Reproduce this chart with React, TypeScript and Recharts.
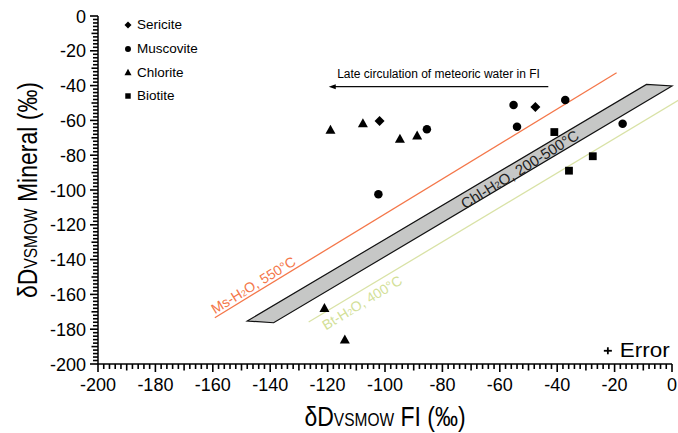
import React from 'react';
import { ScatterChart, Scatter, XAxis, YAxis, ReferenceLine } from 'recharts';

const FONT = '"Liberation Sans", Arial, Helvetica, sans-serif';

// measured data (δD FI, δD mineral)
const sericite = [
  { x: -101.9, y: -60.3 },
  { x: -47.6, y: -52.3 },
];
const muscovite = [
  { x: -102.3, y: -102.5 },
  { x: -85.4, y: -65.1 },
  { x: -55.2, y: -51.1 },
  { x: -54.0, y: -63.6 },
  { x: -37.2, y: -48.3 },
  { x: -17.2, y: -61.9 },
];
const chlorite = [
  { x: -119.0, y: -65.1 },
  { x: -107.7, y: -61.3 },
  { x: -94.8, y: -70.3 },
  { x: -88.8, y: -68.4 },
  { x: -121.1, y: -167.6 },
  { x: -114.0, y: -185.6 },
];
const biotite = [
  { x: -41.0, y: -66.7 },
  { x: -27.6, y: -80.6 },
  { x: -35.9, y: -88.9 },
];

// fractionation lines / band
const msLine = [{ x: -159.3, y: -173.4 }, { x: -19.3, y: -32.6 }];
const btLine = [{ x: -126.6, y: -175.9 }, { x: 2.4, y: -48.3 }];
const chlBand = [
  { x: -148.0, y: -175.3 },
  { x: -8.9, y: -39.3 },
  { x: 0, y: -40.2 },
  { x: -138.8, y: -176.3 },
];
const arrowLine = [{ x: -43.1, y: -40.6 }, { x: -119.6, y: -40.6 }];
const arrowText = 'Late circulation of meteoric water in FI';

const lineLabels = [
  { x: -145.9, y: -154.6, pre: 'Ms-H', post: 'O, 550°C', color: '#f4774a', size: 14, angle: -31.5 },
  { x: -108.0, y: -164.7, pre: 'Bt-H', post: 'O, 400°C', color: '#d3df98', size: 14, angle: -31.5 },
  { x: -53.1, y: -87.9, pre: 'Chl-H', post: 'O, 200-500°C', color: '#222', size: 15, angle: -32 },
];
const errorMark = [{ x: -22.35, y: -192.4 }];

const AXIS_TICKS = Array.from({ length: 101 }, (_, i) => -200 + i * 2);

const SERIES = [
  { name: 'Sericite', kind: 'diamond', data: sericite },
  { name: 'Muscovite', kind: 'circle', data: muscovite },
  { name: 'Chlorite', kind: 'triangle', data: chlorite },
  { name: 'Biotite', kind: 'square', data: biotite },
];

function symbol(kind: string, cx: number, cy: number, s: number) {
  const h = s / 2;
  switch (kind) {
    case 'diamond':
      return <polygon points={`${cx},${cy - h} ${cx + h},${cy} ${cx},${cy + h} ${cx - h},${cy}`} fill="#000" />;
    case 'circle':
      return <circle cx={cx} cy={cy} r={h * 0.85} fill="#000" />;
    case 'triangle':
      return <polygon points={`${cx},${cy - h * 0.9} ${cx + h},${cy + h * 0.9} ${cx - h},${cy + h * 0.9}`} fill="#000" />;
    default: {
      const a = h * 0.78;
      return <rect x={cx - a} y={cy - a} width={a * 2} height={a * 2} fill="#000" />;
    }
  }
}

function tickLen(v: number) {
  return v % 20 === 0 ? 8 : v % 10 === 0 ? 6.5 : 5;
}

const XTick = (props: any) => {
  const { x, y, payload } = props;
  const v = payload.value;
  return (
    <g>
      <rect x={x - 0.8} y={y} width={1.6} height={tickLen(v)} fill="#000" />
      {v % 20 === 0 && (
        <text x={x} y={y + 26.5} textAnchor="middle" fontSize={18} fontFamily={FONT} fill="#000">
          {v}
        </text>
      )}
    </g>
  );
};

const YTick = (props: any) => {
  const { x, y, payload } = props;
  const v = payload.value;
  const len = tickLen(v);
  return (
    <g>
      <rect x={x - len} y={y - 0.8} width={len} height={1.6} fill="#000" />
      {v % 20 === 0 && (
        <text x={x - 12} y={y + 6.5} textAnchor="end" fontSize={18} fontFamily={FONT} fill="#000">
          {v}
        </text>
      )}
    </g>
  );
};

const XTitle = (props: any) => {
  const { x, y, width } = props.viewBox;
  return (
    <text
      transform={`translate(${x + width / 2},${y + 61.5}) scale(1,1.18)`}
      textAnchor="middle"
      fontSize={23}
      fontFamily={FONT}
      fill="#000"
    >
      δD<tspan fontSize={15.5}>VSMOW</tspan> FI (‰)
    </text>
  );
};

const YTitle = (props: any) => {
  const { y, height } = props.viewBox;
  return (
    <text
      transform={`translate(37,${y + height / 2}) rotate(-90) scale(1,1.22)`}
      textAnchor="middle"
      fontSize={23}
      fontFamily={FONT}
      fill="#000"
    >
      δD<tspan fontSize={15.5}>VSMOW</tspan> Mineral (‰)
    </text>
  );
};

const ArrowShape = (props: any) => {
  const { x1, y1, x2, y2 } = props;
  return (
    <g>
      <rect x={x2 + 4} y={y1 - 0.6} width={x1 - x2 - 4} height={1.2} fill="#000" />
      <polygon points={`${x2},${y2} ${x2 + 7},${y2 - 2.5} ${x2 + 7},${y2 + 2.5}`} fill="#000" />
      <text x={(x1 + x2) / 2} y={y1 - 8.5} textAnchor="middle" fontSize={12} fontFamily={FONT} fill="#000">
        {arrowText}
      </text>
    </g>
  );
};

const LabelShape = (props: any) => {
  const { cx, cy, payload } = props;
  return (
    <text
      transform={`translate(${cx},${cy}) rotate(${payload.angle})`}
      textAnchor="middle"
      dominantBaseline="central"
      fontSize={payload.size}
      fontFamily={FONT}
      fill={payload.color}
    >
      {payload.pre}
      <tspan fontSize={payload.size * 0.62} dy={2}>2</tspan>
      <tspan dy={-2}>{payload.post}</tspan>
    </text>
  );
};

const ErrorShape = (props: any) => {
  const { cx, cy } = props;
  return (
    <g>
      <rect x={cx - 4} y={cy - 0.9} width={8} height={1.8} fill="#000" />
      <rect x={cx - 0.9} y={cy - 3.5} width={1.8} height={7} fill="#000" />
      <text x={cx + 12} y={cy + 6} fontSize={20} fontFamily={FONT} fill="#000" textLength={50} lengthAdjust="spacingAndGlyphs">
        Error
      </text>
    </g>
  );
};

const BandPath = (props: any) => {
  const pts = props.points || [];
  if (!pts.length) return <g />;
  const d = 'M' + pts.map((p: any) => `${p.x},${p.y}`).join('L') + 'Z';
  return <path d={d} fill="#c6c7c6" stroke="#111" strokeWidth={1.2} />;
};

export default function App() {
  return (
    <div style={{ position: 'relative', width: 678, height: 433, background: '#fff', fontFamily: FONT }}>
      <style>{`body{margin:0}`}</style>
      <ScatterChart width={678} height={433} margin={{ top: 16, right: 6, bottom: 0, left: 0 }}>
        <XAxis
          type="number"
          dataKey="x"
          domain={[-200, 0]}
          ticks={AXIS_TICKS}
          interval={0}
          tick={(p: any) => <XTick {...p} />}
          tickLine={false}
          tickSize={0}
          tickMargin={0}
          height={69}
          axisLine={{ stroke: '#000', strokeWidth: 1.5 }}
          label={<XTitle />}
        />
        <YAxis
          type="number"
          dataKey="y"
          domain={[-200, 0]}
          ticks={AXIS_TICKS}
          interval={0}
          tick={(p: any) => <YTick {...p} />}
          tickLine={false}
          tickSize={0}
          tickMargin={0}
          width={98}
          axisLine={{ stroke: '#000', strokeWidth: 1.5 }}
          label={<YTitle />}
        />
        <Scatter
          data={chlBand}
          isAnimationActive={false}
          shape={() => <g />}
          line={(p: any) => <BandPath {...p} />}
          legendType="none"
        />
        <ReferenceLine segment={msLine} stroke="#f4774a" strokeWidth={1.3} ifOverflow="visible" />
        <ReferenceLine segment={btLine} stroke="#d9e2a6" strokeWidth={1.3} ifOverflow="visible" />
        <ReferenceLine segment={arrowLine} ifOverflow="visible" shape={ArrowShape} />
        <Scatter data={lineLabels} isAnimationActive={false} shape={LabelShape} legendType="none" />
        {SERIES.map((s) => (
          <Scatter
            key={s.name}
            name={s.name}
            data={s.data}
            isAnimationActive={false}
            shape={(p: any) => symbol(s.kind, p.cx, p.cy, 10)}
          />
        ))}
        <Scatter data={errorMark} isAnimationActive={false} shape={ErrorShape} legendType="none" />
      </ScatterChart>
      <div style={{ position: 'absolute', left: 122, top: 13, fontSize: 13.5, color: '#000' }}>
        {SERIES.map((s) => (
          <div key={s.name} style={{ display: 'flex', alignItems: 'center', height: 23.7 }}>
            <svg width={14} height={12} style={{ marginRight: 1 }}>
              {symbol(s.kind, 6, 6, 7)}
            </svg>
            <span>{s.name}</span>
          </div>
        ))}
      </div>
    </div>
  );
}
